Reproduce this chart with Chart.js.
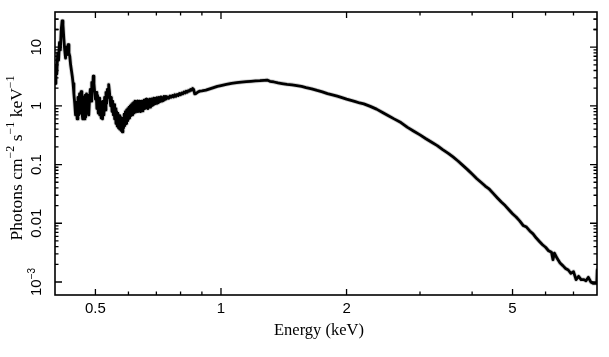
<!DOCTYPE html>
<html>
<head>
<meta charset="utf-8">
<script src="https://cdn.jsdelivr.net/npm/chart.js@4.4.1/dist/chart.umd.min.js"></script>
<style>
html,body{margin:0;padding:0;background:#fff;}
#wrap{width:609px;height:357px;}
</style>
</head>
<body>
<div id="wrap"><canvas id="c" width="609" height="357"></canvas></div>
<script>
// Energy bins (keV)
const energies = [
  0.400,0.402,0.404,0.406,0.408,0.410,0.412,0.414,0.416,0.418,
  0.420,0.422,0.424,0.426,0.428,0.430,0.432,0.434,0.436,0.438,
  0.440,0.442,0.444,0.446,0.448,0.450,0.452,0.454,0.456,0.458,
  0.460,0.462,0.464,0.466,0.468,0.470,0.472,0.474,0.476,0.478,
  0.480,0.482,0.484,0.486,0.488,0.490,0.492,0.494,0.496,0.498,
  0.500,0.502,0.504,0.506,0.508,0.510,0.512,0.514,0.516,0.518,
  0.520,0.522,0.524,0.526,0.528,0.530,0.532,0.534,0.536,0.538,
  0.540,0.542,0.544,0.546,0.548,0.550,0.552,0.554,0.556,0.558,
  0.560,0.562,0.564,0.566,0.568,0.570,0.572,0.574,0.576,0.578,
  0.580,0.582,0.584,0.586,0.588,0.590,0.592,0.594,0.596,0.598,
  0.600,0.602,0.604,0.606,0.608,0.610,0.612,0.614,0.616,0.618,
  0.620,0.622,0.624,0.626,0.628,0.630,0.632,0.634,0.636,0.638,
  0.640,0.642,0.644,0.646,0.648,0.650,0.652,0.654,0.656,0.658,
  0.660,0.662,0.664,0.666,0.668,0.670,0.672,0.674,0.676,0.678,
  0.680,0.682,0.684,0.686,0.688,0.690,0.692,0.694,0.696,0.698,
  0.700,0.702,0.704,0.706,0.708,0.710,0.712,0.714,0.716,0.718,
  0.720,0.722,0.724,0.726,0.728,0.730,0.732,0.734,0.736,0.738,
  0.740,0.745,0.750,0.755,0.760,0.765,0.770,0.775,0.780,0.785,
  0.790,0.795,0.800,0.805,0.810,0.815,0.820,0.825,0.830,0.835,
  0.840,0.845,0.850,0.855,0.860,0.865,0.870,0.880,0.890,0.900,
  0.920,0.940,0.960,0.980,1.000,1.030,1.060,1.090,1.120,1.150,
  1.180,1.210,1.240,1.270,1.290,1.310,1.340,1.370,1.400,1.440,
  1.480,1.520,1.560,1.600,1.650,1.700,1.750,1.800,1.850,1.900,
  1.950,2.00,2.05,2.10,2.15,2.20,2.28,2.36,2.44,2.52,
  2.60,2.70,2.80,2.90,3.00,3.10,3.20,3.30,3.40,3.50,
  3.60,3.70,3.80,3.90,4.00,4.10,4.20,4.30,4.40,4.50,
  4.60,4.70,4.80,4.90,5.00,5.10,5.20,5.30,5.40,5.50,
  5.60,5.70,5.80,5.90,6.00,6.10,6.20,6.25,6.30,6.40,
  6.50,6.60,6.70,6.80,6.90,7.00,7.10,7.20,7.30,7.40,
  7.50,7.60,7.70,7.80,7.90,7.96,7.98
];
// Unfolded flux (photons cm^-2 s^-1 keV^-1)
const flux = [
  2.4,5.0,3.5,8.0,6.0,12,9,20,28,24,
  14,9,6.5,10,7.5,11,8,7,5,4,
  3.2,2.4,1.6,1.1,0.7,1.15,0.6,1.4,0.7,1.6,
  0.75,1.75,0.8,0.6,1.4,0.6,1.5,0.65,1.6,0.75,
  1.5,0.7,1.3,1.9,1.2,2.5,1.8,3.2,2.4,1.7,
  1.3,1.7,0.9,1.5,0.75,1.35,0.7,1.2,0.62,1.05,
  0.6,1.2,0.7,1.4,0.85,1.7,1.1,1.9,1.4,2.3,
  1.8,1.3,1.0,1.4,0.8,1.2,0.7,1.05,0.6,0.9,
  0.5,0.8,0.45,0.75,0.42,0.68,0.4,0.65,0.38,0.6,
  0.36,0.62,0.42,0.72,0.46,0.8,0.5,0.85,0.56,0.9,
  0.6,0.95,0.62,1.0,0.68,1.05,0.7,1.1,0.75,1.15,
  0.8,1.2,0.78,1.15,0.82,1.2,0.8,1.1,0.85,1.2,
  0.8,1.15,0.85,1.2,0.82,1.1,0.88,1.25,0.9,1.2,
  0.92,1.3,0.95,1.22,0.9,1.25,0.98,1.3,0.95,1.28,
  1.0,1.32,1.02,1.25,1.05,1.35,1.08,1.3,1.1,1.35,
  1.1,1.38,1.12,1.32,1.15,1.4,1.18,1.35,1.2,1.42,
  1.2,1.4,1.22,1.38,1.25,1.45,1.28,1.4,1.3,1.45,
  1.32,1.42,1.35,1.47,1.4,1.5,1.42,1.55,1.45,1.56,
  1.5,1.62,1.55,1.66,1.6,1.72,1.65,1.78,1.7,1.82,
  1.78,1.9,1.85,1.98,1.9,1.6,1.62,1.72,1.78,1.8,
  1.85,1.95,2.05,2.15,2.22,2.32,2.42,2.48,2.54,2.58,
  2.62,2.66,2.68,2.72,2.75,2.62,2.55,2.46,2.40,2.33,
  2.28,2.22,2.15,2.05,1.95,1.83,1.73,1.62,1.54,1.46,
  1.38,1.30,1.24,1.18,1.12,1.08,0.98,0.88,0.77,0.68,
  0.60,0.52,0.43,0.37,0.32,0.275,0.24,0.21,0.18,0.157,
  0.135,0.115,0.097,0.082,0.069,0.058,0.050,0.043,0.038,0.032,
  0.027,0.023,0.020,0.017,0.0145,0.0128,0.011,0.0092,0.0086,0.0074,
  0.0066,0.0056,0.0049,0.0043,0.0039,0.0034,0.0032,0.0024,0.0031,0.0025,
  0.0021,0.0019,0.0017,0.0016,0.0014,0.0015,0.0011,0.00125,0.0011,0.0011,
  0.00105,0.0012,0.0010,0.00095,0.00095,0.00095,0.0016
];
// Axis ticks
const xTickValues = [0.4,0.5,0.6,0.7,0.8,0.9,1,2,3,4,5,6,7];
const xTickLabels = {0.5:'0.5', 1:'1', 2:'2', 5:'5'};
const yDecades = [0.001,0.01,0.1,1,10];
const yTickLabelList = [
  [['10',false],['\u22123',true]],
  [['0.01',false]],
  [['0.1',false]],
  [['1',false]],
  [['10',false]]
];
const xTitle = 'Energy (keV)';
const yTitle = [['Photons cm',false],['\u22122',true],[' s',false],['\u22121',true],[' keV',false],['\u22121',true]];

const points = energies.map((e,i)=>({x:e, y:flux[i]}));

function drawSegments(ctx, segs, baseFont, supFont, raise){
  let total = 0;
  const w = segs.map(s=>{ctx.font = s[1]?supFont:baseFont; const m = ctx.measureText(s[0]).width; total += m; return m;});
  let x = -total/2;
  segs.forEach((s,i)=>{
    ctx.font = s[1]?supFont:baseFont;
    ctx.fillText(s[0], x, s[1]? -raise : 0);
    x += w[i];
  });
}

const framePlugin = {
  id:'frame',
  afterDraw(chart){
    const ctx = chart.ctx;
    const xs = chart.scales.x, ys = chart.scales.y;
    const a = chart.chartArea;
    ctx.save();
    ctx.strokeStyle = '#000';
    ctx.lineWidth = 1.6;
    ctx.strokeRect(a.left, a.top, a.right-a.left, a.bottom-a.top);
    ctx.lineWidth = 1.3;
    xTickValues.forEach(v=>{
      const px = xs.getPixelForValue(v);
      if (px < a.left+1 || px > a.right-1) return;
      const len = (v===1) ? 7 : (xTickLabels[v] ? 6 : 3.5);
      ctx.beginPath();
      ctx.moveTo(px, a.bottom); ctx.lineTo(px, a.bottom-len);
      ctx.moveTo(px, a.top); ctx.lineTo(px, a.top+len);
      ctx.stroke();
    });
    yDecades.forEach(d=>{
      for (let k=1;k<=9;k++){
        const v = d*k;
        const py = ys.getPixelForValue(v);
        if (py < a.top+1 || py > a.bottom-1) continue;
        const len = (k===1) ? 7 : 3.5;
        ctx.beginPath();
        ctx.moveTo(a.left, py); ctx.lineTo(a.left+len, py);
        ctx.moveTo(a.right, py); ctx.lineTo(a.right-len, py);
        ctx.stroke();
      }
    });
    [20,30].forEach(v=>{
      const py = ys.getPixelForValue(v);
      if (py < a.top+1) return;
      ctx.beginPath();
      ctx.moveTo(a.left, py); ctx.lineTo(a.left+3.5, py);
      ctx.moveTo(a.right, py); ctx.lineTo(a.right-3.5, py);
      ctx.stroke();
    });
    ctx.fillStyle = '#000';
    ctx.font = '15px "Liberation Sans", Arial, sans-serif';
    ctx.textAlign = 'center';
    ctx.textBaseline = 'middle';
    Object.keys(xTickLabels).forEach(k=>{
      const px = xs.getPixelForValue(parseFloat(k));
      ctx.fillText(xTickLabels[k], px, a.bottom+14);
    });
    yDecades.forEach((d,i)=>{
      const py = ys.getPixelForValue(d);
      ctx.save();
      ctx.translate(a.left-18, py);
      ctx.rotate(-Math.PI/2);
      ctx.textAlign = 'left';
      drawSegments(ctx, yTickLabelList[i], '15px "Liberation Sans", Arial, sans-serif', '10px "Liberation Sans", Arial, sans-serif', 5);
      ctx.restore();
    });
    ctx.font = '16.5px "Liberation Serif", "Times New Roman", serif';
    ctx.textAlign = 'center';
    ctx.fillText(xTitle, 319, 331);
    ctx.save();
    ctx.translate(17, 158);
    ctx.rotate(-Math.PI/2);
    ctx.textAlign = 'left';
    drawSegments(ctx, yTitle, '17.5px "Liberation Serif", "Times New Roman", serif', '12px "Liberation Serif", "Times New Roman", serif', 6);
    ctx.restore();
    ctx.restore();
  }
};

new Chart(document.getElementById('c'), {
  type:'line',
  data:{
    datasets:[
      {data:points, order:1, borderColor:'#d0d0d0', borderWidth:4.5, borderJoinStyle:'round', borderCapStyle:'round', pointRadius:0, tension:0, fill:false},
      {data:points, order:0, borderColor:'#000', borderWidth:2.8, borderJoinStyle:'round', borderCapStyle:'round', pointRadius:0, tension:0, fill:false}
    ]
  },
  options:{
    responsive:false,
    animation:false,
    devicePixelRatio:1,
    layout:{padding:{left:0, right:12, top:12, bottom:0}},
    plugins:{legend:{display:false}, tooltip:{enabled:false}},
    scales:{
      x:{type:'logarithmic', min:0.4, max:7.97,
         grid:{display:false}, border:{display:false}, ticks:{display:false},
         afterFit(s){ s.height = 62; }},
      y:{type:'logarithmic', min:6.35e-4, max:39.7,
         grid:{display:false}, border:{display:false}, ticks:{display:false},
         afterFit(s){ s.width = 55; }}
    }
  },
  plugins:[framePlugin]
});
</script>
</body>
</html>
